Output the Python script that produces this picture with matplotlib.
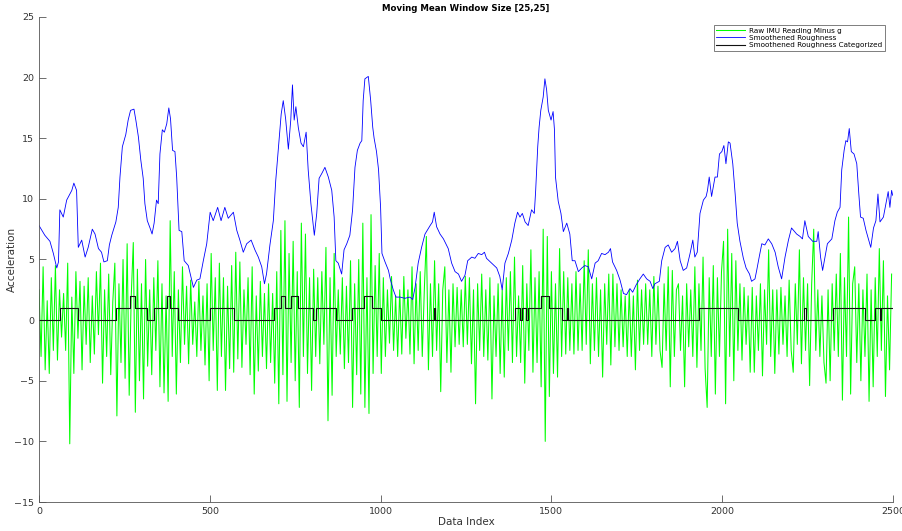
import numpy as np
import matplotlib
matplotlib.use("Agg")
import matplotlib.pyplot as plt

plt.rcParams['font.family'] = ['Liberation Sans Narrow', 'DejaVu Sans']

# raw IMU reading minus g, one value every 6 samples
raw_step = 6
raw_vals = [
    2.5, -3.0, 4.4, -4.1, 1.6, -4.4, 3.5, -2.5,
    4.5, -3.3, 2.5, -1.4, 2.2, -2.5, 4.7, -10.2,
    1.9, -4.4, 4.0, -1.5, 3.2, -4.1, 2.8, -2.0,
    3.5, -3.5, 2.0, -2.8, 4.0, -1.2, 4.7, -5.2,
    2.5, -3.0, 3.8, -4.5, 1.5, 4.7, -7.9, 3.0,
    -3.5, 5.0, -4.8, 6.3, -6.2, 2.0, 6.4, -7.6,
    4.2, -5.0, 3.0, -6.5, 5.0, -3.8, 2.5, -4.5,
    3.5, -2.5, 4.9, -5.5, 3.0, -6.0, 2.0, -6.7,
    8.2, -3.0, 4.0, -6.1, 2.5, -3.5, 4.4, -2.0,
    2.8, -3.6, 3.3, -2.0, 1.5, -3.0, 3.2, -2.5,
    2.0, -3.7, 3.0, -5.0, 5.5, -2.5, 3.5, -5.8,
    4.7, -3.0, 3.5, -5.8, 2.8, -4.0, 4.5, -4.3,
    5.6, -3.2, 4.8, -3.9, 2.5, -2.0, 3.5, -4.5,
    4.4, -6.1, 2.0, -4.2, 3.2, -3.0, 2.2, -4.0,
    3.0, -3.5, 2.2, -5.2, 4.0, -6.9, 7.4, -4.5,
    8.2, -6.7, 5.5, -3.5, 6.5, -5.0, 4.0, -7.2,
    8.0, -3.0, 7.1, -4.4, 3.5, -5.8, 4.2, -3.0,
    3.5, -3.6, 4.0, -2.0, 6.0, -8.3, 3.5, -6.2,
    5.5, -3.0, 2.5, -2.8, 3.5, -4.0, 2.8, -3.5,
    4.9, -7.2, 3.0, -4.5, 5.0, -6.1, 8.0, -7.2,
    3.5, -7.7, 8.7, -4.4, 4.5, -3.0, 5.5, -4.4,
    3.5, -3.0, 2.5, -1.9, 3.6, -2.5, 2.0, -3.0,
    2.5, -2.8, 3.6, -1.5, 2.5, -2.8, 4.4, -3.6,
    3.0, -2.5, 4.0, -3.0, 2.5, 6.9, -4.1, 3.0,
    -3.0, 4.9, -2.5, 3.0, -5.9, 2.5, 4.4, -3.5,
    2.5, -4.3, 3.0, -2.2, 2.7, -2.0, 2.5, -2.2,
    3.6, -2.0, 3.5, -3.6, 2.5, -6.9, 3.0, -2.5,
    3.8, -3.0, 2.5, -3.3, 3.5, -6.5, 2.0, -3.0,
    3.0, -4.4, 2.5, -4.7, 3.5, -2.5, 4.0, -3.5,
    5.2, -3.0, 2.0, -3.5, 4.5, -5.2, 3.0, -2.5,
    5.8, -4.3, 3.5, -3.5, 4.0, -5.5, 7.5, -10.0,
    6.9, -6.3, 4.0, -4.4, 3.0, -4.7, 5.9, -3.0,
    4.0, -2.8, 3.5, -2.5, 3.0, -2.8, 4.0, -2.5,
    3.0, -2.5, 4.9, -2.0, 5.8, -3.6, 3.0, -2.5,
    3.5, -3.0, 2.5, -4.7, 3.0, -2.0, 3.8, -3.7,
    3.8, -2.2, 3.0, -2.5, 2.5, -2.2, 2.0, -3.0,
    2.5, -3.0, 2.0, -4.1, 3.3, -2.5, 2.5, -2.0,
    3.0, -2.0, 2.5, -3.0, 3.6, -2.0, 2.8, -2.5,
    -3.9, 3.0, -2.5, 4.4, -5.5, 4.1, -3.0, 2.5,
    3.0, -2.5, 2.0, -5.5, 3.0, -2.2, 2.5, -3.0,
    4.4, -3.9, 3.0, -2.5, 5.2, -4.0, -7.2, 3.5,
    -3.0, 4.5, -6.1, 3.5, -3.0, 4.0, 6.5, -6.9,
    7.5, -3.0, 5.5, -5.0, 4.9, -2.5, 3.0, -3.3,
    2.7, -2.0, 2.0, -4.3, 2.7, -4.3, 2.0, -2.5,
    3.0, -4.6, 2.5, -2.0, 5.8, -3.0, 2.5, -4.4,
    2.5, -2.8, 2.7, -2.0, 2.0, -3.0, 3.3, -2.5,
    -4.3, 3.0, -2.0, 5.8, -3.6, 3.5, -2.5, 3.0,
    -5.4, 3.0, 7.5, -2.5, 2.5, -3.0, 2.0, -3.5,
    -5.2, 2.5, -5.0, 3.0, -2.5, 3.8, -3.0, 5.5,
    -6.6, 3.5, -3.0, 8.5, -6.1, 3.0, 4.4, -3.5,
    3.0, -5.0, 2.5, -3.0, 3.8, -6.7, 2.5, -5.5,
    3.5, -3.0, 5.9, -2.5, 4.9, -6.3, 2.0, -4.1, 3.8,
]

# smoothened roughness
rough_idx = [
    0, 17, 32, 42, 52, 57, 61, 71, 81, 96, 102, 110, 115, 125, 135, 144,
    156, 164, 174, 183, 190, 200, 206, 213, 225, 232, 237, 244, 254, 261,
    268, 278, 284, 291, 298, 305, 310, 317, 325, 331, 337, 344, 349, 354,
    361, 367, 374, 380, 385, 391, 398, 403, 410, 418, 425, 437, 452, 462,
    471, 481, 491, 501, 510, 523, 533, 544, 554, 569, 579, 588, 598, 608,
    621, 632, 642, 652, 660, 666, 676, 686, 693, 701, 709, 715, 722, 730,
    737, 742, 747, 752, 759, 767, 774, 782, 788, 796, 806, 813, 820, 828,
    837, 847, 857, 864, 869, 876, 886, 893, 901, 910, 918, 925, 932, 940,
    945, 949, 954, 964, 971, 977, 981, 988, 994, 1000, 1004, 1013, 1023,
    1029, 1037, 1045, 1057, 1071, 1086, 1094, 1101, 1110, 1120, 1130, 1145,
    1152, 1157, 1164, 1174, 1184, 1198, 1208, 1218, 1228, 1237, 1247, 1255,
    1267, 1276, 1286, 1296, 1304, 1310, 1325, 1340, 1349, 1356, 1364, 1374,
    1384, 1393, 1401, 1408, 1415, 1423, 1432, 1442, 1450, 1454, 1460, 1464,
    1469, 1476, 1481, 1486, 1491, 1499, 1505, 1509, 1512, 1520, 1528, 1535,
    1545, 1554, 1561, 1569, 1579, 1589, 1598, 1608, 1618, 1628, 1637, 1647,
    1657, 1667, 1673, 1679, 1691, 1701, 1711, 1720, 1730, 1738, 1748, 1759,
    1769, 1779, 1789, 1797, 1803, 1816, 1823, 1833, 1842, 1852, 1862, 1869,
    1877, 1886, 1896, 1906, 1914, 1920, 1927, 1935, 1945, 1953, 1957, 1962,
    1969, 1979, 1986, 1992, 1999, 2005, 2011, 2018, 2023, 2031, 2038, 2044,
    2052, 2062, 2070, 2080, 2086, 2096, 2101, 2109, 2116, 2125, 2135, 2145,
    2155, 2164, 2174, 2184, 2194, 2203, 2218, 2228, 2235, 2242, 2252, 2265,
    2277, 2281, 2288, 2294, 2301, 2308, 2321, 2330, 2337, 2345, 2350, 2357,
    2362, 2367, 2372, 2378, 2386, 2394, 2400, 2405, 2413, 2421, 2428, 2435,
    2443, 2450, 2456, 2462, 2472, 2482, 2486, 2491, 2496, 2499,
]
rough_vals = [
    7.8, 7.0, 6.5, 5.5, 4.3, 4.8, 9.1, 8.5, 9.9, 10.7, 11.3, 10.7, 6.0, 6.6, 5.2, 6.0,
    7.5, 7.1, 5.9, 5.6, 4.8, 4.9, 6.2, 7.0, 8.1, 9.3, 11.8, 14.3, 15.3, 16.5,
    17.3, 17.4, 16.4, 15.1, 13.2, 11.7, 9.6, 8.2, 7.6, 7.1, 8.0, 9.9, 9.6, 13.7,
    15.7, 15.5, 16.2, 17.5, 16.6, 14.0, 13.9, 11.8, 7.4, 7.3, 4.9, 4.5, 2.7, 3.3,
    3.4, 4.9, 6.3, 8.9, 8.2, 9.3, 8.2, 9.3, 8.4, 8.9, 7.4, 6.6, 5.6, 6.3,
    6.6, 5.8, 5.2, 4.4, 3.0, 3.8, 6.2, 8.2, 11.5, 14.3, 17.0, 18.1, 16.6, 14.1,
    16.5, 19.4, 16.5, 17.6, 15.9, 14.6, 14.3, 15.5, 12.4, 9.6, 7.0, 8.8, 11.7, 12.1,
    12.6, 11.8, 10.7, 8.5, 4.9, 4.7, 3.8, 5.8, 6.3, 7.0, 9.1, 12.6, 14.0, 14.6,
    14.8, 18.1, 19.9, 20.1, 18.1, 15.9, 15.0, 13.9, 12.4, 9.3, 5.5, 4.8, 4.1,
    3.3, 2.5, 1.9, 1.9, 1.8, 1.9, 1.7, 2.7, 4.7, 6.0, 7.1, 7.8,
    8.1, 8.9, 7.7, 7.1, 6.7, 5.9, 4.7, 4.0, 3.8, 3.2, 3.7, 4.9,
    5.2, 5.1, 5.5, 5.4, 5.6, 5.1, 4.7, 4.3, 3.6, 2.5, 4.7, 5.5,
    6.6, 8.0, 8.9, 8.5, 8.8, 8.1, 7.8, 9.1, 8.8, 10.7, 14.3, 15.9,
    17.3, 18.4, 19.9, 19.0, 17.3, 16.5, 17.2, 15.7, 11.8, 9.8, 8.8, 7.3,
    8.0, 7.1, 4.9, 4.9, 4.0, 4.3, 4.5, 4.4, 3.4, 4.7, 4.9, 5.5,
    5.4, 5.6, 5.9, 4.8, 4.1, 3.3, 2.2, 2.1, 2.6, 2.3, 2.9, 3.4,
    3.8, 3.4, 3.2, 2.6, 3.0, 3.2, 4.9, 6.0, 6.2, 5.6, 5.9, 6.5,
    4.9, 4.1, 4.3, 5.5, 6.6, 5.2, 5.6, 8.8, 9.9, 10.2, 10.7, 11.8,
    10.2, 11.8, 11.8, 13.7, 13.9, 14.4, 12.9, 14.7, 14.6, 12.9, 10.4, 8.0,
    6.5, 5.1, 4.3, 3.8, 3.2, 3.4, 4.1, 5.3, 6.3, 6.2, 6.7, 6.3,
    5.6, 4.4, 3.4, 5.2, 6.6, 7.6, 7.1, 6.9, 6.7, 8.2, 6.9, 6.5,
    6.5, 7.3, 5.2, 4.1, 5.2, 6.3, 6.7, 8.2, 8.9, 9.3, 12.4, 14.0,
    14.8, 14.7, 15.8, 13.9, 13.7, 12.9, 10.4, 8.5, 8.4, 7.4, 6.7, 6.0,
    7.6, 8.2, 10.4, 8.1, 8.5, 10.0, 10.6, 9.3, 10.7, 10.3,
]

# categorized roughness: index where a new level starts, and that level
cat_idx = [0, 61, 113, 224, 266, 281, 317, 338, 374, 384, 408, 500, 572,
           688, 708, 720, 738, 757, 803, 810, 868, 917, 950, 976, 1001,
           1155, 1160, 1393, 1408, 1413, 1427, 1432, 1470, 1493, 1530,
           1545, 1550, 1933, 2045, 2240, 2246, 2325, 2418, 2447, 2462,
           2464, 2500]
cat_lvl = [0, 1, 0, 1, 2, 1, 0, 1, 2, 1, 0, 1, 0,
           1, 2, 1, 2, 1, 0, 1, 0, 1, 2, 1, 0,
           1, 0, 1, 0, 1, 0, 1, 2, 1, 0,
           1, 0, 1, 0, 1, 0, 1, 0, 1, 0,
           1, 1]

raw_idx = np.arange(len(raw_vals)) * raw_step

fig = plt.figure(figsize=(9.03, 5.31), dpi=100)
ax = fig.add_axes([0.0432, 0.0546, 0.9457, 0.9134])

ax.plot(raw_idx, raw_vals, color='#00ff00', lw=0.75, label='Raw IMU Reading Minus g')
ax.plot(rough_idx, rough_vals, color='#0000ff', lw=0.6, label='Smoothened Roughness')
ax.plot(cat_idx, cat_lvl, color='#111111', lw=0.8, drawstyle='steps-post',
        label='Smoothened Roughness Categorized')

ax.set_xlim(0, 2500)
ax.set_ylim(-15, 25)
ax.set_xticks([0, 500, 1000, 1500, 2000, 2500])
ax.set_yticks(range(-15, 26, 5))
ax.tick_params(direction='in', length=5, width=0.6, color='#555555',
               labelsize=6.8, labelcolor='#333333')
for side in ['top', 'right']:
    ax.spines[side].set_visible(False)
for side in ['left', 'bottom']:
    ax.spines[side].set_color('#555555')
    ax.spines[side].set_linewidth(0.6)

ax.set_xlabel('Data Index', fontsize=7.5, color='#333333', labelpad=1)
ax.set_ylabel('Acceleration', fontsize=7.5, color='#333333')
ax.yaxis.set_label_coords(-0.026, 0.5)
ax.set_title('Moving Mean Window Size [25,25]', fontsize=6.2, fontweight='bold', pad=4)

leg = ax.legend(loc='upper right', bbox_to_anchor=(0.992, 0.986), fontsize=5.2,
                frameon=True, fancybox=False, handlelength=4.0, borderpad=0.35,
                labelspacing=0.15, handletextpad=0.5, borderaxespad=0.2)
leg.get_frame().set_edgecolor('#444444')
leg.get_frame().set_linewidth(0.6)

fig.savefig('out.png', dpi=100)
